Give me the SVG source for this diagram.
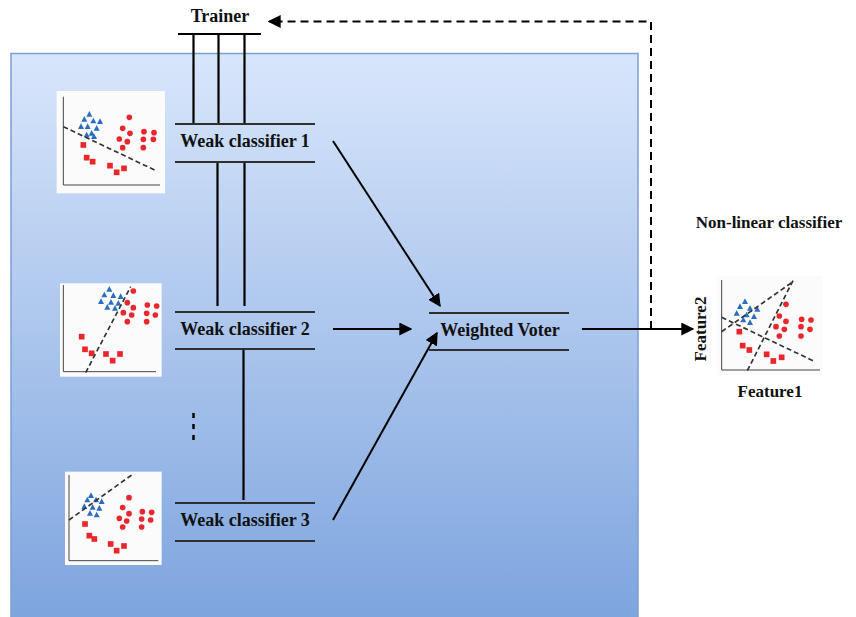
<svg xmlns="http://www.w3.org/2000/svg" width="856" height="617" viewBox="0 0 856 617">
  <style>
    .lbl { font-family: "Liberation Serif", "Times New Roman", serif; font-weight: bold; fill: #111; }
    .bar { stroke: #2f2f2f; stroke-width: 2.2; }
    .wire { stroke: #000; stroke-width: 2.2; fill: none; }
    .arrow { stroke: #000; stroke-width: 2; fill: none; marker-end: url(#head); }
    .plotbox { fill: #fbfbfb; }
    .axis { stroke: #444; stroke-width: 3; fill: none; }
    .tri { fill: #2a6ec2; }
    .dot { fill: #e8262c; }
    .sq { fill: #e8262c; }
    .sep { stroke: #333; stroke-width: 5; stroke-dasharray: 15 9; fill: none; }
  </style>
  <defs>
    <linearGradient id="panelFill" x1="0" y1="0" x2="0" y2="1">
      <stop offset="0" stop-color="#d8e6fb"/>
      <stop offset="1" stop-color="#7da4de"/>
    </linearGradient>
    <marker id="head" viewBox="0 0 10 10" refX="9" refY="5" markerWidth="6.5" markerHeight="6.5" orient="auto" markerUnits="strokeWidth">
      <path d="M0,0 L10,5 L0,10 z" fill="#000"/>
    </marker>
    <path id="t" d="M0,-10 L9,7 L-9,7 z"/>
    <circle id="c" r="8.5"/>
    <rect id="s" x="-8.5" y="-8.5" width="17" height="17"/>
  </defs>

  <!-- ensemble panel -->
  <rect x="11" y="53.5" width="627" height="570" fill="url(#panelFill)" stroke="#7b9fd5" stroke-width="1.5"/>

  <!-- connectors -->
  <g id="connectors">
    <!-- trainer bus -->
    <line class="wire" x1="178" y1="34" x2="261" y2="34"/>
    <line class="wire" x1="193.5" y1="34" x2="193.5" y2="123"/>
    <line class="wire" x1="218.5" y1="34" x2="218.5" y2="123"/>
    <line class="wire" x1="244.5" y1="34" x2="244.5" y2="123"/>
    <line class="wire" x1="217.5" y1="162" x2="217.5" y2="306"/>
    <line class="wire" x1="244.5" y1="162" x2="244.5" y2="306"/>
    <line class="wire" x1="243.5" y1="349" x2="243.5" y2="500"/>
    <!-- ellipsis between classifiers -->
    <line x1="193.5" y1="413" x2="193.5" y2="445" stroke="#000" stroke-width="2.5" stroke-dasharray="5 6"/>
    <!-- classifier outputs to voter -->
    <line class="arrow" x1="333" y1="141" x2="440" y2="306"/>
    <line class="arrow" x1="333" y1="329" x2="411" y2="329"/>
    <line class="arrow" x1="333" y1="520" x2="437" y2="333"/>
    <!-- voter output -->
    <line class="arrow" x1="582" y1="329" x2="693" y2="329"/>
    <!-- feedback to trainer -->
    <path d="M651,329 L651,21.5 L269,21.5" stroke="#000" stroke-width="2" fill="none" stroke-dasharray="8 5" marker-end="url(#head)"/>
  </g>

  <!-- trainer -->
  <g id="trainer">
    <text class="lbl" x="220" y="22" font-size="18" text-anchor="middle">Trainer</text>
  </g>

  <!-- weak classifiers -->
  <g id="weak1">
    <line class="bar" x1="175" y1="124" x2="315" y2="124"/>
    <line class="bar" x1="175" y1="162" x2="315" y2="162"/>
    <text class="lbl" x="245" y="147" font-size="18" text-anchor="middle">Weak classifier 1</text>
  </g>
  <g id="weak2">
    <line class="bar" x1="175" y1="312" x2="315" y2="312"/>
    <line class="bar" x1="175" y1="349" x2="315" y2="349"/>
    <text class="lbl" x="245" y="335" font-size="18" text-anchor="middle">Weak classifier 2</text>
  </g>
  <g id="weak3">
    <line class="bar" x1="175" y1="503" x2="315" y2="503"/>
    <line class="bar" x1="175" y1="541" x2="315" y2="541"/>
    <text class="lbl" x="245" y="526" font-size="18" text-anchor="middle">Weak classifier 3</text>
  </g>

  <!-- weighted voter -->
  <g id="voter">
    <line class="bar" x1="429" y1="313" x2="569" y2="313"/>
    <line class="bar" x1="429" y1="350" x2="569" y2="350"/>
    <text class="lbl" x="500" y="336" font-size="18" text-anchor="middle">Weighted Voter</text>
  </g>

  <!-- scatter plot 1 -->
  <g id="plot1" transform="translate(50,85) scale(0.3333)">
    <rect class="plotbox" x="20" y="18" width="325" height="307"/>
    <path class="axis" d="M40,35 L40,300 L330,300"/>
    <use href="#t" class="tri" x="118" y="88"/><use href="#t" class="tri" x="103" y="103"/>
    <use href="#t" class="tri" x="130" y="108"/><use href="#t" class="tri" x="150" y="110"/>
    <use href="#t" class="tri" x="93" y="125"/><use href="#t" class="tri" x="113" y="125"/>
    <use href="#t" class="tri" x="140" y="130"/><use href="#t" class="tri" x="125" y="145"/>
    <use href="#t" class="tri" x="110" y="150"/><use href="#t" class="tri" x="132" y="155"/>
    <use href="#c" class="dot" x="238" y="97"/><use href="#c" class="dot" x="218" y="130"/>
    <use href="#c" class="dot" x="240" y="145"/><use href="#c" class="dot" x="208" y="162"/>
    <use href="#c" class="dot" x="232" y="170"/><use href="#c" class="dot" x="218" y="188"/>
    <use href="#c" class="dot" x="282" y="140"/><use href="#c" class="dot" x="312" y="143"/>
    <use href="#c" class="dot" x="280" y="163"/><use href="#c" class="dot" x="310" y="163"/>
    <use href="#c" class="dot" x="280" y="188"/>
    <use href="#s" class="sq" x="100" y="180"/><use href="#s" class="sq" x="110" y="218"/>
    <use href="#s" class="sq" x="128" y="230"/><use href="#s" class="sq" x="180" y="242"/>
    <use href="#s" class="sq" x="200" y="262"/><use href="#s" class="sq" x="222" y="250"/>
    <line class="sep" x1="40" y1="125" x2="320" y2="258"/>
  </g>

  <!-- scatter plot 2 -->
  <g id="plot2" transform="translate(50,280) scale(0.3333)">
    <rect class="plotbox" x="30" y="10" width="305" height="280"/>
    <path class="axis" d="M40,15 L40,275 L318,275"/>
    <use href="#t" class="tri" x="178" y="28"/><use href="#t" class="tri" x="163" y="45"/>
    <use href="#t" class="tri" x="190" y="47"/><use href="#t" class="tri" x="212" y="50"/>
    <use href="#t" class="tri" x="153" y="65"/><use href="#t" class="tri" x="183" y="67"/>
    <use href="#t" class="tri" x="205" y="70"/><use href="#t" class="tri" x="172" y="82"/>
    <use href="#t" class="tri" x="195" y="85"/>
    <use href="#c" class="dot" x="250" y="33"/><use href="#c" class="dot" x="232" y="68"/>
    <use href="#c" class="dot" x="250" y="83"/><use href="#c" class="dot" x="292" y="75"/>
    <use href="#c" class="dot" x="320" y="78"/><use href="#c" class="dot" x="220" y="98"/>
    <use href="#c" class="dot" x="245" y="105"/><use href="#c" class="dot" x="290" y="100"/>
    <use href="#c" class="dot" x="316" y="105"/><use href="#c" class="dot" x="232" y="125"/>
    <use href="#c" class="dot" x="290" y="125"/>
    <use href="#s" class="sq" x="95" y="170"/><use href="#s" class="sq" x="105" y="208"/>
    <use href="#s" class="sq" x="125" y="220"/><use href="#s" class="sq" x="168" y="222"/>
    <use href="#s" class="sq" x="210" y="222"/><use href="#s" class="sq" x="188" y="242"/>
    <line class="sep" x1="107" y1="278" x2="242" y2="20"/>
  </g>

  <!-- scatter plot 3 -->
  <g id="plot3" transform="translate(50,465) scale(0.3333)">
    <rect class="plotbox" x="45" y="20" width="290" height="280"/>
    <path class="axis" d="M57,30 L57,287 L325,287"/>
    <use href="#t" class="tri" x="123" y="92"/><use href="#t" class="tri" x="112" y="105"/>
    <use href="#t" class="tri" x="138" y="105"/><use href="#t" class="tri" x="155" y="110"/>
    <use href="#t" class="tri" x="103" y="125"/><use href="#t" class="tri" x="128" y="127"/>
    <use href="#t" class="tri" x="148" y="130"/><use href="#t" class="tri" x="120" y="145"/>
    <use href="#t" class="tri" x="140" y="150"/>
    <use href="#c" class="dot" x="237" y="98"/><use href="#c" class="dot" x="218" y="128"/>
    <use href="#c" class="dot" x="237" y="146"/><use href="#c" class="dot" x="208" y="160"/>
    <use href="#c" class="dot" x="230" y="168"/><use href="#c" class="dot" x="218" y="186"/>
    <use href="#c" class="dot" x="277" y="140"/><use href="#c" class="dot" x="305" y="142"/>
    <use href="#c" class="dot" x="275" y="162"/><use href="#c" class="dot" x="302" y="165"/>
    <use href="#c" class="dot" x="275" y="186"/>
    <use href="#s" class="sq" x="105" y="177"/><use href="#s" class="sq" x="118" y="212"/>
    <use href="#s" class="sq" x="133" y="222"/><use href="#s" class="sq" x="182" y="237"/>
    <use href="#s" class="sq" x="200" y="257"/><use href="#s" class="sq" x="222" y="243"/>
    <line class="sep" x1="57" y1="165" x2="245" y2="30"/>
  </g>

  <!-- combined non-linear classifier -->
  <g id="result">
    <text class="lbl" x="769" y="228" font-size="17" text-anchor="middle">Non-linear classifier</text>
    <g transform="translate(680,260) scale(0.3333)">
      <rect class="plotbox" x="110" y="48" width="318" height="297"/>
      <path class="axis" d="M125,60 L125,330 L420,330"/>
      <use href="#t" class="tri" x="195" y="125"/><use href="#t" class="tri" x="180" y="140"/>
      <use href="#t" class="tri" x="210" y="145"/><use href="#t" class="tri" x="232" y="148"/>
      <use href="#t" class="tri" x="170" y="160"/><use href="#t" class="tri" x="200" y="165"/>
      <use href="#t" class="tri" x="222" y="170"/><use href="#t" class="tri" x="190" y="180"/>
      <use href="#t" class="tri" x="210" y="188"/>
      <use href="#c" class="dot" x="318" y="133"/><use href="#c" class="dot" x="298" y="168"/>
      <use href="#c" class="dot" x="318" y="184"/><use href="#c" class="dot" x="288" y="200"/>
      <use href="#c" class="dot" x="313" y="208"/><use href="#c" class="dot" x="298" y="228"/>
      <use href="#c" class="dot" x="365" y="178"/><use href="#c" class="dot" x="393" y="180"/>
      <use href="#c" class="dot" x="363" y="200"/><use href="#c" class="dot" x="390" y="208"/>
      <use href="#c" class="dot" x="363" y="228"/>
      <use href="#s" class="sq" x="178" y="215"/><use href="#s" class="sq" x="188" y="257"/>
      <use href="#s" class="sq" x="208" y="270"/><use href="#s" class="sq" x="260" y="283"/>
      <use href="#s" class="sq" x="280" y="303"/><use href="#s" class="sq" x="305" y="292"/>
      <line class="sep" x1="125" y1="215" x2="335" y2="68"/>
      <line class="sep" x1="125" y1="172" x2="405" y2="305"/>
      <line class="sep" x1="202" y1="332" x2="340" y2="60"/>
    </g>
    <text class="lbl" transform="translate(706,329) rotate(-90)" font-size="17" text-anchor="middle">Feature2</text>
    <text class="lbl" x="770" y="397" font-size="17" text-anchor="middle">Feature1</text>
  </g>
</svg>
